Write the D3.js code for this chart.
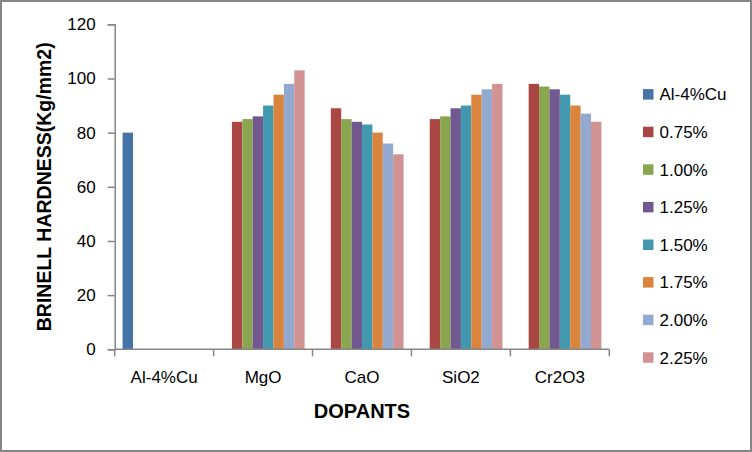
<!DOCTYPE html>
<html>
<head>
<meta charset="utf-8">
<script src="https://cdn.jsdelivr.net/npm/d3@7"></script>
<style>
  body { margin: 0; background: #fff; }
  svg text { font-family: "Liberation Sans", Arial, sans-serif; fill: #000; }
</style>
</head>
<body>
<script>
// chart values
var categories = ["Al-4%Cu", "MgO", "CaO", "SiO2", "Cr2O3"];
var seriesNames = ["Al-4%Cu", "0.75%", "1.00%", "1.25%", "1.50%", "1.75%", "2.00%", "2.25%"];
var base   = [80, null, null, null, null];
var d075   = [null, 84, 89, 85, 98];
var d100   = [null, 85, 85, 86, 97];
var d125   = [null, 86, 84, 89, 96];
var d150   = [null, 90, 83, 90, 94];
var d175   = [null, 94, 80, 94, 90];
var d200   = [null, 98, 76, 96, 87];
var d225   = [null, 103, 72, 98, 84];
var yTicks = [0, 20, 40, 60, 80, 100, 120];

var seriesValues = [base, d075, d100, d125, d150, d175, d200, d225];
var colors = ["#4572A7", "#AA4643", "#89A54E", "#71588F", "#4198AF", "#DB843D", "#93A9CF", "#D19392"];

var W = 752, H = 452;
var plot = { left: 114.7, right: 609.3, top: 24.3, bottom: 349.3 };

var svg = d3.select("body").append("svg")
            .attr("width", W)
            .attr("height", H);

// outer frame
svg.append("rect")
   .attr("x", 1).attr("y", 1)
   .attr("width", W - 2).attr("height", H - 2)
   .attr("fill", "#fff")
   .attr("stroke", "#868686")
   .attr("stroke-width", 2);

var x0 = d3.scaleBand()
           .domain(categories)
           .range([plot.left, plot.right])
           .paddingInner(0).paddingOuter(0);

var x1 = d3.scaleBand()
           .domain(seriesNames)
           .range([0, x0.bandwidth()])
           .paddingInner(0).paddingOuter(0.76);

var y = d3.scaleLinear()
          .domain([0, 120])
          .range([plot.bottom, plot.top]);

// bars
var rows = [];
seriesValues.forEach(function(vals, si) {
  vals.forEach(function(v, ci) {
    if (v != null) rows.push({ s: seriesNames[si], c: categories[ci], v: v, i: si });
  });
});

svg.append("g").selectAll("rect")
   .data(rows)
   .enter().append("rect")
   .attr("x", function(d) { return x0(d.c) + x1(d.s); })
   .attr("width", x1.bandwidth())
   .attr("y", function(d) { return y(d.v); })
   .attr("height", function(d) { return y(0) - y(d.v); })
   .attr("fill", function(d) { return colors[d.i]; });

// y axis
var yAxis = svg.append("g")
               .attr("transform", "translate(" + plot.left + ",0)")
               .call(d3.axisLeft(y).tickValues(yTicks).tickSize(7).tickPadding(12));
yAxis.select(".domain").attr("stroke", "#868686").attr("stroke-width", 1.5);
yAxis.selectAll(".tick line").attr("stroke", "#868686").attr("stroke-width", 1.5);
yAxis.selectAll(".tick text").attr("font-size", 17).attr("font-family", "Liberation Sans");

// x axis: ticks sit at category boundaries
var xAxis = svg.append("g")
               .attr("transform", "translate(0," + plot.bottom + ")");
xAxis.append("line")
     .attr("x1", plot.left).attr("x2", plot.right)
     .attr("stroke", "#868686").attr("stroke-width", 1.5);
var bounds = categories.map(function(c) { return x0(c); }).concat([plot.right]);
xAxis.selectAll("line.tk")
     .data(bounds)
     .enter().append("line")
     .attr("class", "tk")
     .attr("x1", function(d) { return d; }).attr("x2", function(d) { return d; })
     .attr("y1", 0).attr("y2", 7)
     .attr("stroke", "#868686").attr("stroke-width", 1.5);
xAxis.selectAll("text")
     .data(categories)
     .enter().append("text")
     .attr("x", function(d) { return x0(d) + x0.bandwidth() / 2; })
     .attr("y", 34)
     .attr("text-anchor", "middle")
     .attr("font-size", 17)
     .text(function(d) { return d; });

// axis titles
svg.append("text")
   .attr("x", (plot.left + plot.right) / 2)
   .attr("y", 418)
   .attr("text-anchor", "middle")
   .attr("font-size", 20)
   .attr("font-weight", "bold")
   .text("DOPANTS");

svg.append("text")
   .attr("transform", "translate(51," + (plot.top + plot.bottom) / 2 + ") rotate(-90)")
   .attr("text-anchor", "middle")
   .attr("font-size", 19.5)
   .attr("font-weight", "bold")
   .text("BRINELL HARDNESS(Kg/mm2)");

// legend
var legend = svg.append("g")
                .selectAll("g")
                .data(seriesNames)
                .enter().append("g")
                .attr("transform", function(d, i) { return "translate(643," + (94.3 + i * 37.6) + ")"; });
legend.append("rect")
      .attr("x", 0).attr("y", -5.2)
      .attr("width", 10.5).attr("height", 10.5)
      .attr("fill", function(d, i) { return colors[i]; });
legend.append("text")
      .attr("x", 16.5)
      .attr("y", 6)
      .attr("font-size", 17)
      .text(function(d) { return d; });
</script>
</body>
</html>
